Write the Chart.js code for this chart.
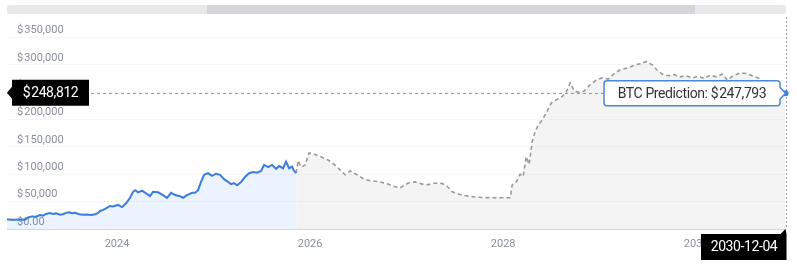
<!DOCTYPE html>
<html>
<head>
<meta charset="utf-8">
<script src="https://cdn.jsdelivr.net/npm/chart.js@4.4.1/dist/chart.umd.min.js"></script>
<style>
  html, body { margin: 0; padding: 0; background: #fff; }
  #wrap { width: 797px; height: 267px; position: relative; }
</style>
</head>
<body>
<div id="wrap"><canvas id="btc"></canvas></div>
<script>
// historical BTC price (fractional year, USD)
const histYears = [2022.860, 2022.902, 2022.943, 2022.995, 2023.047, 2023.078, 2023.119, 2023.161, 2023.202, 2023.233,
  2023.264, 2023.306, 2023.337, 2023.368, 2023.409, 2023.440, 2023.472, 2023.503, 2023.534, 2023.565,
  2023.606, 2023.648, 2023.689, 2023.731, 2023.772, 2023.803, 2023.824, 2023.855, 2023.886, 2023.927,
  2023.959, 2023.979, 2024.010, 2024.052, 2024.093, 2024.135, 2024.166, 2024.187, 2024.218, 2024.259,
  2024.301, 2024.342, 2024.373, 2024.425, 2024.477, 2024.518, 2024.560, 2024.601, 2024.653, 2024.684,
  2024.725, 2024.777, 2024.808, 2024.839, 2024.870, 2024.902, 2024.943, 2024.984, 2025.026, 2025.067,
  2025.109, 2025.150, 2025.181, 2025.212, 2025.244, 2025.285, 2025.326, 2025.368, 2025.409, 2025.451,
  2025.492, 2025.523, 2025.565, 2025.606, 2025.648, 2025.679, 2025.720, 2025.751, 2025.782, 2025.813,
  2025.834, 2025.855];
const histPrices = [18000, 17000, 16800, 17500, 17000, 21000, 23000, 22500, 25600, 24500,
  27500, 29000, 27500, 28500, 26000, 27000, 29500, 30500, 29000, 29500,
  27000, 26000, 26500, 25800, 27000, 29500, 33000, 35000, 37500, 42000,
  41000, 42500, 44000, 40000, 47000, 57000, 68000, 71000, 67000, 70000,
  65000, 60000, 68000, 67000, 62000, 57000, 66000, 62000, 60000, 57000,
  62000, 66000, 66000, 71000, 86000, 99000, 102000, 97000, 101000, 99000,
  91000, 86000, 82000, 84000, 80000, 86000, 95000, 102000, 104000, 103000,
  106000, 117000, 113000, 117000, 110000, 115000, 111000, 123000, 111000, 114000,
  106000, 102000];

// prediction
const predYears = [2025.855, 2025.876, 2025.907, 2025.948, 2025.990, 2026.052, 2026.124, 2026.187, 2026.249, 2026.311,
  2026.363, 2026.415, 2026.477, 2026.570, 2026.642, 2026.725, 2026.808, 2026.881, 2026.933, 2027.016,
  2027.088, 2027.161, 2027.223, 2027.295, 2027.368, 2027.420, 2027.472, 2027.554, 2027.637, 2027.741,
  2027.865, 2027.969, 2028.073, 2028.093, 2028.135, 2028.176, 2028.207, 2028.238, 2028.269, 2028.301,
  2028.332, 2028.363, 2028.404, 2028.446, 2028.497, 2028.549, 2028.611, 2028.653, 2028.694, 2028.736,
  2028.788, 2028.839, 2028.902, 2028.964, 2029.026, 2029.088, 2029.150, 2029.212, 2029.285, 2029.368,
  2029.430, 2029.482, 2029.544, 2029.596, 2029.648, 2029.710, 2029.772, 2029.834, 2029.896, 2029.959,
  2030.021, 2030.083, 2030.145, 2030.207, 2030.269, 2030.321, 2030.383, 2030.456, 2030.518, 2030.580,
  2030.642, 2030.705, 2030.767, 2030.829, 2030.925];
const predPrices = [102000, 125000, 113000, 117000, 139000, 136000, 131000, 126000, 118000, 108000,
  99000, 106000, 100000, 90000, 88000, 86000, 82000, 77000, 75000, 84000,
  86000, 82000, 81000, 84000, 83000, 78000, 68000, 63000, 60000, 58000,
  57000, 57000, 57000, 80000, 86000, 100000, 96000, 132000, 118000, 160000,
  178000, 190000, 199000, 212000, 230000, 236000, 242000, 250000, 267000, 252000,
  250000, 252000, 264000, 272000, 276000, 274000, 284000, 291000, 294000, 300000,
  302000, 306000, 300000, 290000, 283000, 280000, 282000, 278000, 280000, 276000,
  279000, 275000, 281000, 278000, 283000, 272000, 280000, 285000, 284000, 280000,
  276000, 268000, 262000, 255000, 247793];

const yTicks = [0, 50000, 100000, 150000, 200000, 250000, 300000, 350000];
const xTicks = [2024, 2026, 2028, 2030];
const hoverDate = '2030-12-04';
const crossPrice = 248812;

const fmtUsd = v => v === 0 ? '$0.00' : '$\u200A' + v.toLocaleString('en-US');

// navigator bar, crosshair, price/date flags and the tooltip box
const overlay = {
    id: 'overlay',
    afterDraw(chart) {
        const { ctx, chartArea, scales } = chart;
        const x = scales.x, y = scales.y;
        ctx.save();

        // navigator strip at the top
        ctx.fillStyle = '#e7e8ea';
        ctx.beginPath(); ctx.roundRect(chartArea.left, 5, chartArea.right - chartArea.left, 9, 3); ctx.fill();
        ctx.fillStyle = '#d5d6d9';
        ctx.fillRect(207, 5, 488, 9);

        const last = predPrices.length - 1;
        const px = x.getPixelForValue(predYears[last]);
        const py = y.getPixelForValue(predPrices[last]);
        const cy = y.getPixelForValue(crossPrice);

        // crosshair
        ctx.strokeStyle = '#9a9a9a';
        ctx.lineWidth = 1;
        ctx.setLineDash([3, 3]);
        ctx.beginPath(); ctx.moveTo(chartArea.left, Math.round(cy) + 0.5); ctx.lineTo(chartArea.right, Math.round(cy) + 0.5); ctx.stroke();
        ctx.setLineDash([2, 2]);
        ctx.beginPath(); ctx.moveTo(Math.round(px) + 0.5, chartArea.top - 4); ctx.lineTo(Math.round(px) + 0.5, chartArea.bottom); ctx.stroke();
        ctx.setLineDash([]);

        // hovered point
        ctx.fillStyle = '#3b7ddd';
        ctx.beginPath(); ctx.arc(px, py, 3, 0, Math.PI * 2); ctx.fill();

        ctx.font = '14px Roboto';
        ctx.letterSpacing = '-0.4px';
        ctx.textBaseline = 'middle';

        // price flag on the left
        ctx.fillStyle = '#000';
        ctx.beginPath();
        ctx.moveTo(chartArea.left, cy);
        ctx.lineTo(12, cy - 6);
        ctx.lineTo(12, cy - 13);
        ctx.lineTo(89, cy - 13);
        ctx.lineTo(89, cy + 13);
        ctx.lineTo(12, cy + 13);
        ctx.lineTo(12, cy + 6);
        ctx.closePath();
        ctx.fill();
        ctx.fillStyle = '#fff';
        ctx.textAlign = 'center';
        ctx.fillText(fmtUsd(crossPrice), 50.5, cy + 1);

        // date flag at the bottom
        ctx.fillStyle = '#000';
        ctx.beginPath();
        ctx.moveTo(701, chartArea.bottom + 5);
        ctx.lineTo(px - 5, chartArea.bottom + 5);
        ctx.lineTo(px, chartArea.bottom);
        ctx.lineTo(px + 1, chartArea.bottom + 5);
        ctx.lineTo(px + 1, chartArea.bottom + 31);
        ctx.lineTo(701, chartArea.bottom + 31);
        ctx.closePath();
        ctx.fill();
        ctx.fillStyle = '#fff';
        ctx.fillText(hoverDate, 744, chartArea.bottom + 18);

        // tooltip
        const tx0 = 604, tx1 = 780, ty0 = py - 12.5, ty1 = py + 12.5;
        ctx.fillStyle = '#fff';
        ctx.strokeStyle = '#4a88dc';
        ctx.lineWidth = 1.5;
        ctx.beginPath();
        ctx.moveTo(tx0 + 3, ty0);
        ctx.lineTo(tx1 - 3, ty0);
        ctx.quadraticCurveTo(tx1, ty0, tx1, ty0 + 3);
        ctx.lineTo(tx1, py - 6);
        ctx.lineTo(px, py);
        ctx.lineTo(tx1, py + 6);
        ctx.lineTo(tx1, ty1 - 3);
        ctx.quadraticCurveTo(tx1, ty1, tx1 - 3, ty1);
        ctx.lineTo(tx0 + 3, ty1);
        ctx.quadraticCurveTo(tx0, ty1, tx0, ty1 - 3);
        ctx.lineTo(tx0, ty0 + 3);
        ctx.quadraticCurveTo(tx0, ty0, tx0 + 3, ty0);
        ctx.closePath();
        ctx.fill();
        ctx.stroke();
        ctx.fillStyle = '#333';
        ctx.fillText('BTC Prediction: ' + fmtUsd(predPrices[last]), (tx0 + tx1) / 2, py + 1);

        ctx.restore();
    }
};

new Chart(document.getElementById('btc'), {
    type: 'line',
    data: {
        datasets: [{
            label: 'BTC Price',
            data: histYears.map((t, i) => ({ x: t, y: histPrices[i] })),
            borderColor: '#3b7ddd',
            backgroundColor: 'rgba(66, 133, 244, 0.10)',
            borderWidth: 2,
            pointRadius: 0,
            tension: 0,
            fill: 'origin',
        }, {
            label: 'BTC Prediction',
            data: predYears.map((t, i) => ({ x: t, y: predPrices[i] })),
            borderColor: '#999',
            backgroundColor: 'rgba(0, 0, 0, 0.045)',
            borderWidth: 1.6,
            borderDash: [4, 3],
            pointRadius: 0,
            tension: 0,
            fill: 'origin',
        }]
    },
    options: {
        responsive: true,
        maintainAspectRatio: false,
        animation: false,
        layout: { padding: { left: 7, right: 11, top: 21, bottom: 16 } },
        plugins: {
            legend: { display: false },
            tooltip: { enabled: false },
        },
        scales: {
            x: {
                type: 'linear',
                min: 2022.86,
                max: 2030.93,
                afterBuildTicks: scale => { scale.ticks = xTicks.map(v => ({ value: v })); },
                afterFit: scale => { scale.height = 22; },
                grid: { display: false, drawTicks: false },
                border: { display: true, color: '#d6d8dc' },
                ticks: {
                    padding: 9,
                    maxRotation: 0,
                    color: '#8a8f98',
                    font: { family: 'Roboto', size: 11 },
                    callback: v => String(v),
                },
            },
            y: {
                min: 0,
                max: 380000,
                afterBuildTicks: scale => { scale.ticks = yTicks.map(v => ({ value: v })); },
                afterFit: scale => { scale.width = 0; },
                grid: { color: 'rgba(0, 0, 0, 0.035)', drawTicks: false },
                border: { display: false },
                ticks: {
                    mirror: true,
                    padding: 10,
                    labelOffset: -7,
                    color: '#8a8f98',
                    font: { family: 'Roboto', size: 11 },
                    callback: v => fmtUsd(v),
                },
            },
        },
    },
    plugins: [overlay],
});
</script>
</body>
</html>
